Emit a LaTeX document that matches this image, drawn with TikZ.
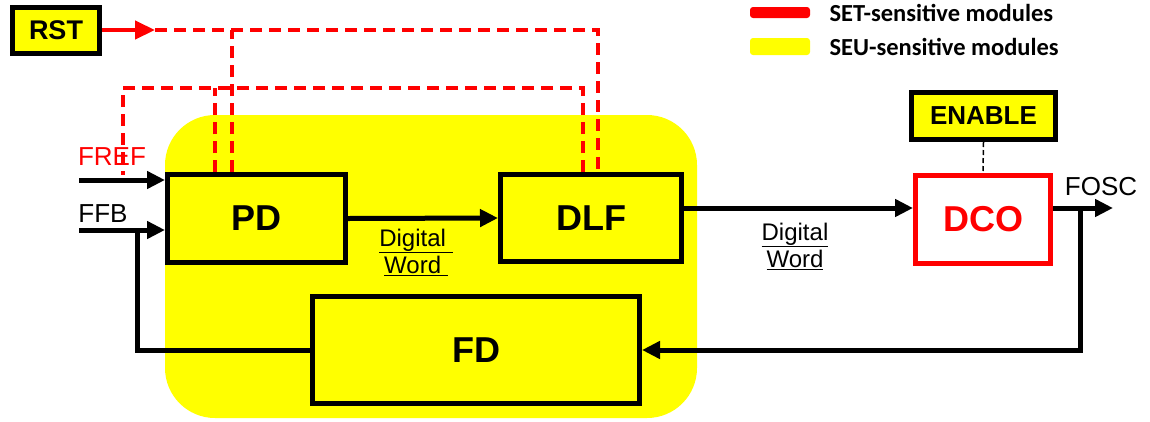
\documentclass[tikz,border=0pt]{standalone}
\usepackage{fontspec}
\setmainfont{Liberation Sans}
\newfontfamily\legfont{Carlito}
\usetikzlibrary{calc}
\usetikzlibrary{arrows.meta}

\definecolor{seu}{RGB}{255,255,0}
\definecolor{set}{RGB}{255,0,0}

\begin{document}
\begin{tikzpicture}[x=1pt,y=-1pt,
  blk/.style={draw=black,fill=seu,line width=\lwblk,inner sep=0pt},
  big/.style={font=\fontsize{36}{36}\selectfont\bfseries},
  sig/.style={color=black,line width=\lw},
  arr/.style={sig,-{Triangle[length=18pt,width=17pt]}},
  reddash/.style={color=set,line width=\lwred,dash pattern=on 12pt off 7pt},
  lbl/.style={font=\fontsize{26}{26}\selectfont},
  legtxt/.style={anchor=west,font=\legfont\bfseries\fontsize{24.5}{24.5}\selectfont}]

\def\lw{5pt}
\def\lwblk{5pt}
\def\lwred{4.5pt}

\useasboundingbox (0,0) rectangle (1150,421);

% SEU region
\fill[seu,rounded corners=50pt] (165,115) rectangle (697,418);

% legend
\node[fill=set,rounded corners=3pt,inner sep=0pt,minimum width=60pt,minimum height=11pt] (setkey) at (780,12.5) {};
\node[fill=seu,rounded corners=3pt,inner sep=0pt,minimum width=60pt,minimum height=17pt] (seukey) at (780,46.5) {};
\node[legtxt] (settxt) at (826,13) {SET-sensitive modules};
\node[legtxt] (seutxt) at (826,47) {SEU-sensitive modules};

% blocks
\node[blk,minimum width=87pt,minimum height=46pt,font=\fontsize{27}{27}\selectfont\bfseries] (rst) at (56,30) {RST};
\node[blk,big,minimum width=178pt,minimum height=88pt] (pd) at (256.5,218.5) {PD};
\node[blk,big,minimum width=181pt,minimum height=87pt] (dlf) at (591,218) {DLF};
\node[blk,big,minimum width=327pt,minimum height=107pt] (fd) at (476,350) {FD};
\node[blk,big,fill=white,draw=set,text=set,minimum width=135pt,minimum height=88pt] (dco) at (983,219.5) {DCO};
\node[blk,minimum width=144pt,minimum height=47pt,font=\fontsize{26}{26}\selectfont\bfseries] (en) at (983.5,116) {ENABLE};

% labels
\node[lbl,text=set] (fref) at (112,157) {FREF};
\node[lbl] (ffb) at (103,214) {FFB};
\node[lbl] (fosc) at (1101,187) {FOSC};
\node[align=center,font=\fontsize{24}{27}\selectfont] (dw1) at (416,252) {\underline{Digital\ }\\\underline{Word\ }};
\node[align=center,font=\fontsize{24}{27}\selectfont] (dw2) at (795,246) {\underline{Digital}\\\underline{Word}};

\coordinate (frefin) at (79,180);
\coordinate (ffbin) at (79,230);
\coordinate (fbk) at (137,230);
\coordinate (dwl) at (0,208);
\coordinate (out) at (1113,208);
\coordinate (tap) at (1080,208);

\draw[arr] (frefin) -- (frefin -| pd.west);
\draw[arr] (ffbin) -- (ffbin -| pd.west);
\draw[sig] (fd.west) -| (fbk);
\draw[arr] (pd.east) -- (dlf.west);
\draw[arr] (dlf.east |- dwl) -- (dco.west |- dwl);
\draw[arr] (dco.east |- dwl) -- (out);
\draw[arr] (tap) |- (fd.east);

\draw[color=black,line width=1.5pt,dash pattern=on 5pt off 3pt] (en.south) -- (dco.north);

% reset lines
\coordinate (rsttip) at (155,30);
\coordinate (rstloop) at (123,88);
\draw[color=set,line width=\lwred,-{Triangle[length=20pt,width=18pt]}] (rst.east) -- (rsttip);
\draw[reddash] (rsttip) -| ([xshift=7pt]dlf.north);
\draw[reddash] ([xshift=-24.5pt]pd.north) -- ([xshift=-24.5pt]pd.north |- rsttip);
\draw[reddash] ([xshift=-8pt]dlf.north) |- (rstloop) -- ++(0,87);
\draw[reddash] ([xshift=-41.5pt]pd.north) -- ([xshift=-41.5pt]pd.north |- rstloop);

\end{tikzpicture}
\end{document}
